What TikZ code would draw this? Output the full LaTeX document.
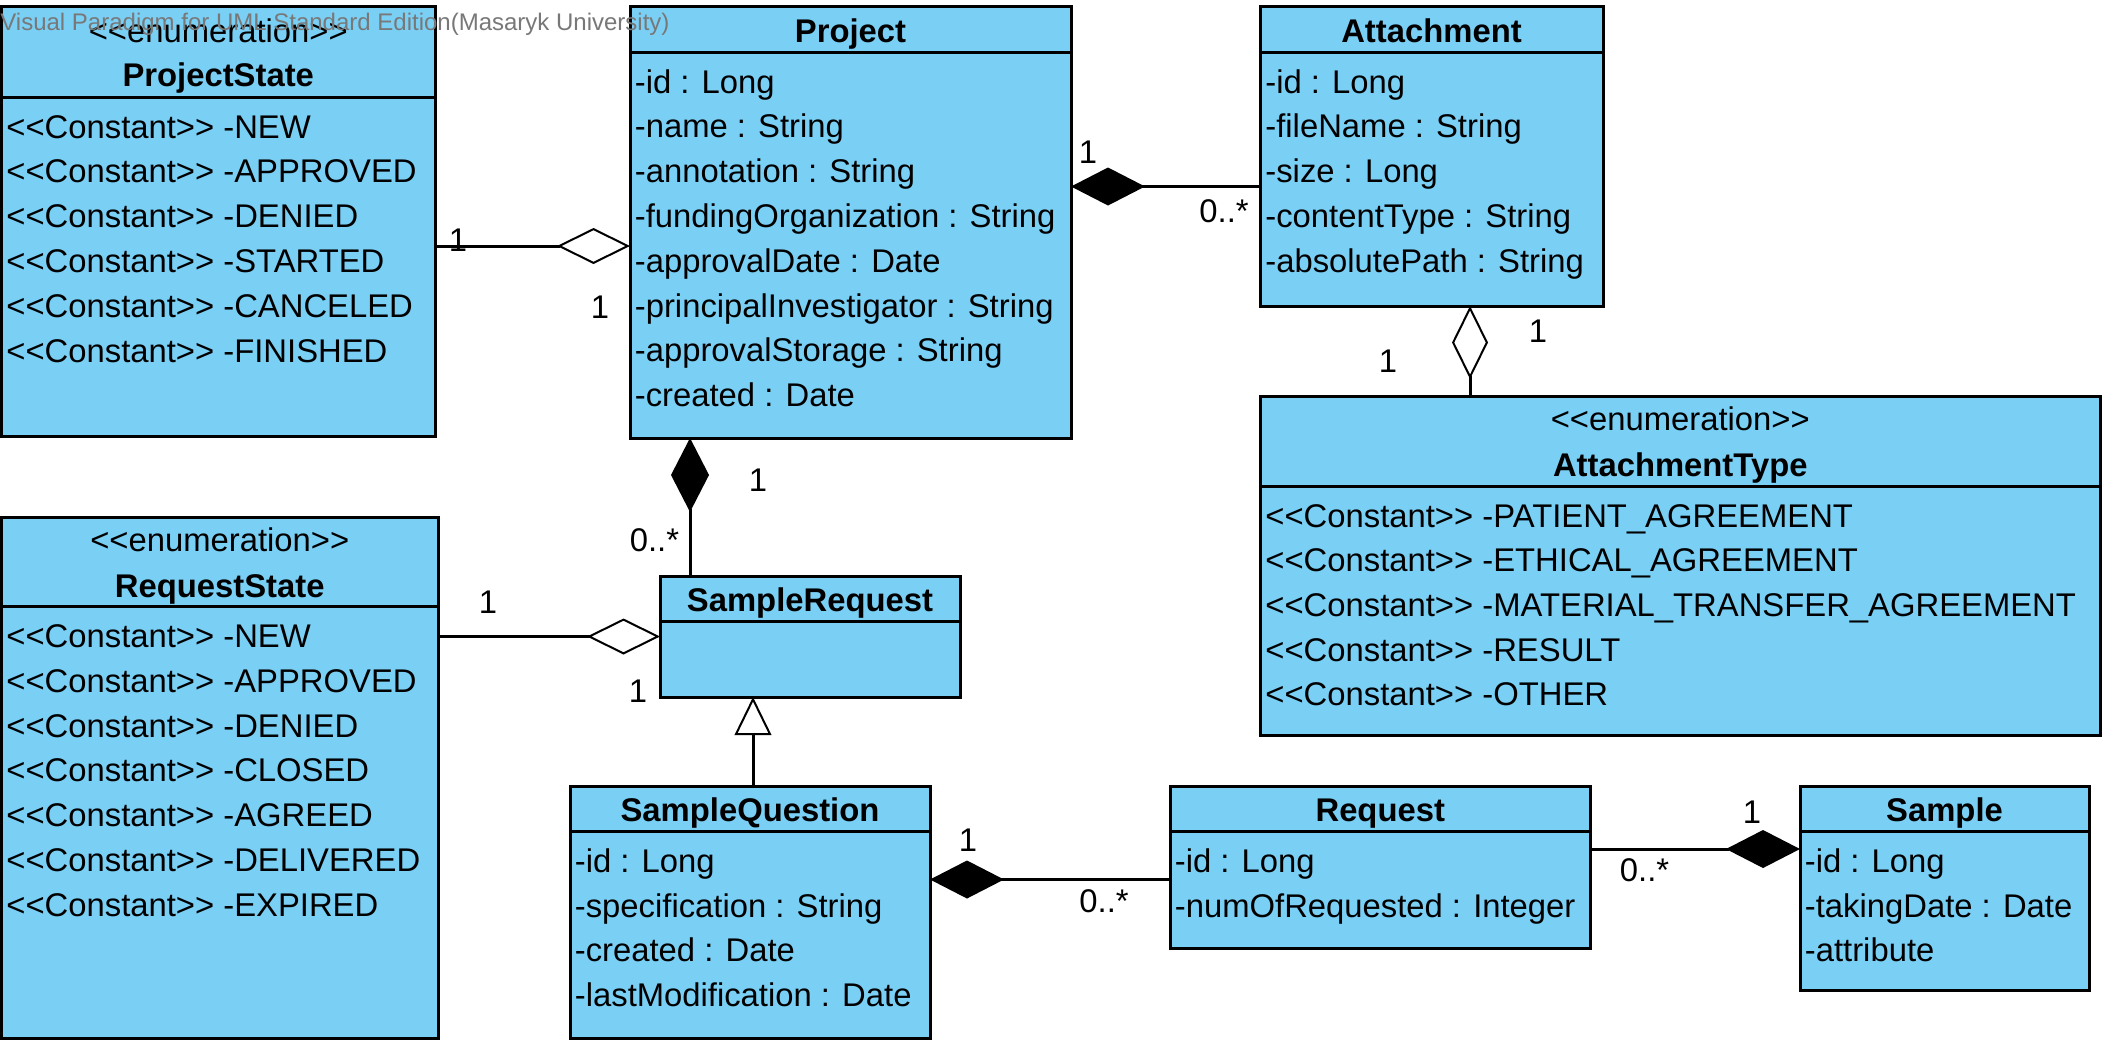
\documentclass[tikz,border=0pt]{standalone}
\usepackage{fontspec}
\setmainfont{Liberation Sans}
\usetikzlibrary{arrows.meta}
\definecolor{umlfill}{RGB}{122,207,245}
\definecolor{wmgray}{RGB}{120,120,120}
\begin{document}
\begin{tikzpicture}[x=0.5pt,y=-0.5pt,
  box/.style={draw=black,line width=1.5pt,fill=umlfill,anchor=north west,inner sep=0pt,outer sep=0pt},
  txt/.style={anchor=base west,inner sep=0pt,font=\fontsize{16.4}{19}\selectfont},
  ttl/.style={anchor=base,inner sep=0pt,font=\fontsize{16.4}{19}\selectfont\bfseries},
  ster/.style={anchor=base,inner sep=0pt,font=\fontsize{16.4}{19}\selectfont},
  mult/.style={anchor=base,inner sep=0pt,font=\fontsize{16.4}{19}\selectfont},
  sepline/.style={line width=1.5pt},
  conn/.style={line width=1.5pt},
  odia/.style={-{Diamond[open,length=36.5pt,width=18pt,line width=1pt]}},
  fdia/.style={-{Diamond[length=37pt,width=19pt]}},
  gen/.style={-{Triangle[open,length=19pt,width=18.3pt,line width=1pt]}}]
\useasboundingbox (0,0) rectangle (2112,1050);
\fill[white] (0,0) rectangle (2112,1050);

% ---------- ProjectState
\node[box,minimum width=216.75pt,minimum height=215pt] (ps) at (1.5,6) {};
\draw[sepline] (ps.west |- 0,97) -- (ps.east |- 0,97);
\node[ster] (pss) at (ps.north |- 0,42) {<{}<enumeration>{}>};
\node[ttl] (pst) at (ps.north |- 0,86) {ProjectState};
\foreach [count=\i] \t in {NEW,APPROVED,DENIED,STARTED,CANCELED,FINISHED}
  \node[txt] (ps\i) at (6,{138+44.8*(\i-1)}) {<{}<Constant>{}> -\t};

% ---------- Project
\node[box,minimum width=220.5pt,minimum height=216pt] (pj) at (630,6) {};
\draw[sepline] (pj.west |- 0,52) -- (pj.east |- 0,52);
\node[ttl] (pjt) at (pj.north |- 0,42) {Project};
\foreach [count=\i] \t in {-id : Long,-name : String,-annotation : String,-fundingOrganization : String,-approvalDate : Date,-principalInvestigator : String,-approvalStorage : String,-created : Date}
  \node[txt] (pj\i) at (634.5,{93+44.8*(\i-1)}) {\t};

% ---------- Attachment
\node[box,minimum width=171.5pt,minimum height=150pt] (at) at (1260,6) {};
\draw[sepline] (at.west |- 0,52) -- (at.east |- 0,52);
\node[ttl] (att) at (at.north |- 0,42) {Attachment};
\foreach [count=\i] \t in {-id : Long,-fileName : String,-size : Long,-contentType : String,-absolutePath : String}
  \node[txt] (at\i) at (1265,{93+44.8*(\i-1)}) {\t};

% ---------- AttachmentType
\node[box,minimum width=420.25pt,minimum height=169.5pt] (aty) at (1260,396) {};
\draw[sepline] (aty.west |- 0,486) -- (aty.east |- 0,486);
\node[ster] (atys) at (aty.north |- 0,430) {<{}<enumeration>{}>};
\node[ttl] (atyt) at (aty.north |- 0,476) {AttachmentType};
\foreach [count=\i] \t in {PATIENT\_AGREEMENT,ETHICAL\_AGREEMENT,MATERIAL\_TRANSFER\_AGREEMENT,RESULT,OTHER}
  \node[txt] (aty\i) at (1265,{527+44.7*(\i-1)}) {<{}<Constant>{}> -\t};

% ---------- RequestState
\node[box,minimum width=218.25pt,minimum height=260.5pt] (rs) at (1.5,517) {};
\draw[sepline] (rs.west |- 0,606.5) -- (rs.east |- 0,606.5);
\node[ster] (rss) at (rs.north |- 0,551) {<{}<enumeration>{}>};
\node[ttl] (rst) at (rs.north |- 0,597) {RequestState};
\foreach [count=\i] \t in {NEW,APPROVED,DENIED,CLOSED,AGREED,DELIVERED,EXPIRED}
  \node[txt] (rs\i) at (6,{647.5+44.8*(\i-1)}) {<{}<Constant>{}> -\t};

% ---------- SampleRequest
\node[box,minimum width=150pt,minimum height=60.5pt] (sr) at (660,576) {};
\draw[sepline] (sr.west |- 0,621) -- (sr.east |- 0,621);
\node[ttl] (srt) at (sr.north |- 0,611.5) {SampleRequest};

% ---------- SampleQuestion
\node[box,minimum width=180pt,minimum height=126pt] (sq) at (570,786) {};
\draw[sepline] (sq.west |- 0,831) -- (sq.east |- 0,831);
\node[ttl] (sqt) at (sq.north |- 0,821) {SampleQuestion};
\foreach [count=\i] \t in {-id : Long,-specification : String,-created : Date,-lastModification : Date}
  \node[txt] (sq\i) at (574.5,{872.5+44.7*(\i-1)}) {\t};

% ---------- Request
\node[box,minimum width=210.25pt,minimum height=81pt] (rq) at (1170,786) {};
\draw[sepline] (rq.west |- 0,831) -- (rq.east |- 0,831);
\node[ttl] (rqt) at (rq.north |- 0,821) {Request};
\foreach [count=\i] \t in {-id : Long,-numOfRequested : Integer}
  \node[txt] (rq\i) at (1174.5,{872.5+44.7*(\i-1)}) {\t};

% ---------- Sample
\node[box,minimum width=144.5pt,minimum height=102pt] (sm) at (1800,786) {};
\draw[sepline] (sm.west |- 0,831) -- (sm.east |- 0,831);
\node[ttl] (smt) at (sm.north |- 0,821) {Sample};
\foreach [count=\i] \t in {-id : Long,-takingDate : Date,-attribute}
  \node[txt] (sm\i) at (1804.5,{872.5+44.7*(\i-1)}) {\t};

% ---------- connector helper coordinates
\coordinate (y1) at (0,246);
\coordinate (y2) at (0,186.5);
\coordinate (x3) at (1470,0);
\coordinate (x4) at (690,0);
\coordinate (y5) at (0,636.5);
\coordinate (x6) at (753,0);
\coordinate (y7) at (0,879.5);
\coordinate (y8) at (0,849);

% ---------- connectors
\draw[conn,odia] (ps.east |- y1) -- (pj.west |- y1);
\draw[conn,fdia] (at.west |- y2) -- (pj.east |- y2);
\draw[conn,odia] (aty.north -| x3) -- (at.south -| x3);
\draw[conn,fdia] (sr.north -| x4) -- (pj.south -| x4);
\draw[conn,odia] (rs.east |- y5) -- (sr.west |- y5);
\draw[conn,gen] (sq.north -| x6) -- (sr.south -| x6);
\draw[conn,fdia] (rq.west |- y7) -- (sq.east |- y7);
\draw[conn,fdia] (rq.east |- y8) -- (sm.west |- y8);

% ---------- multiplicities
\node[mult] (m1a) at (458,251.7) {1};
\node[mult] (m1b) at (600,318.7) {1};
\node[mult] (m2a) at (1088,163.2) {1};
\node[mult] (m2b) at (1224,222.7) {0..*};
\node[mult] (m3a) at (1538,342.7) {1};
\node[mult] (m3b) at (1388,372.7) {1};
\node[mult] (m4a) at (758,491.7) {1};
\node[mult] (m4b) at (654.5,551.7) {0..*};
\node[mult] (m5a) at (488,613.2) {1};
\node[mult] (m5b) at (638,702.7) {1};
\node[mult] (m7a) at (968,851.7) {1};
\node[mult] (m7b) at (1104,912.7) {0..*};
\node[mult] (m8a) at (1752,823.7) {1};
\node[mult] (m8b) at (1644.5,881.7) {0..*};

% ---------- watermark
\node[anchor=base west,inner sep=0pt,text=wmgray,font=\fontsize{12}{14}\selectfont] (wm) at (0,30) {Visual Paradigm for UML Standard Edition(Masaryk University)};
\end{tikzpicture}
\end{document}
